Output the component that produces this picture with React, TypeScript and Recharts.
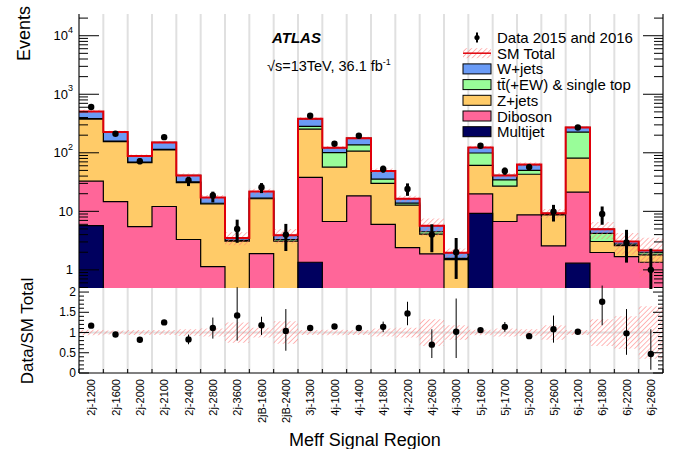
import React from 'react';
import { ComposedChart, Area, Line, Scatter, ErrorBar, XAxis, YAxis, CartesianGrid } from 'recharts';

const FONT = '"Liberation Sans", Arial, Helvetica, sans-serif';
const W = 683;
const H = 449;

// Meff signal regions
const regions = [
  '2j-1200', '2j-1600', '2j-2000', '2j-2100', '2j-2400', '2j-2800', '2j-3600', '2jB-1600', '2jB-2400',
  '3j-1300', '4j-1000', '4j-1400', '4j-1800', '4j-2200', '4j-2600', '4j-3000',
  '5j-1600', '5j-1700', '5j-2000', '5j-2600', '6j-1200', '6j-1800', '6j-2200', '6j-2600',
];

// background expectation per region (events)
const multijet = [5.7, 0, 0, 0, 0, 0, 0, 0, 0, 1.35, 0, 0, 0, 0, 0, 0, 9.2, 0, 0, 0, 1.3, 0, 0, 0];
const diboson = [27.1, 14.7, 5.5, 12.1, 3.3, 1.14, 0.3, 1.9, 0.3, 36.6, 6.7, 18.4, 6.0, 2.4, 1.88, 0.3, 10.6, 6.7, 8.7, 2.57, 20, 1.98, 1.69, 1.35];
const zjets = [344, 141, 62.5, 100, 27.7, 12.2, 2.8, 14.5, 2.8, 216, 50.3, 88.6, 24, 10.4, 2.2, 1.2, 41.3, 20.3, 34.3, 6.1, 59.7, 1.07, 0.91, 0.45];
const ttbar = [6, 2, 1.5, 2, 0.8, 0.4, 0.1, 0.4, 0.2, 28, 44, 30, 5.5, 1.0, 0.4, 0.07, 38, 7.5, 7, 0.1, 145, 1.15, 0.15, 0.16];
const wjets = [125, 68, 18.5, 36, 9.2, 3.5, 0.3, 5.0, 0.6, 99, 21, 41, 13.5, 2.6, 1.2, 0.4, 24, 6.5, 13, 0.5, 45, 0.76, 0.3, 0.18];
// relative uncertainty on SM total
const systUnc = [0.07, 0.05, 0.06, 0.06, 0.08, 0.1, 0.25, 0.12, 0.28, 0.06, 0.07, 0.06, 0.1, 0.12, 0.33, 0.18, 0.07, 0.1, 0.08, 0.18, 0.06, 0.33, 0.4, 0.65];

// data 2015+2016
const observed = [604, 211, 72, 185, 34, 18.7, 5, 25.9, 4, 429, 143, 195, 53, 24, 4, 2, 132, 49, 57, 9.9, 271, 9, 2.93, 1];
const observedErrLow = [25, 14.5, 8.5, 13.6, 7, 4.5, 2.1, 5.4, 1.9, 21, 12, 14, 7.3, 5.6, 2, 1.3, 11.5, 7, 7.5, 3.2, 16, 3.1, 1.6, 0.8];
const observedErrHigh = [25, 14.5, 8.5, 13.6, 5, 3, 2.2, 4.5, 2.1, 21, 12, 14, 7.3, 6, 2, 1.5, 11.5, 7, 7.5, 3, 16, 3.1, 1.9, 1.3];

// Data / SM total
const ratio = [1.17, 0.95, 0.82, 1.25, 0.83, 1.11, 1.42, 1.18, 1.04, 1.11, 1.15, 1.11, 1.14, 1.47, 0.7, 1.02, 1.06, 1.14, 0.91, 1.08, 1.02, 1.76, 0.98, 0.47];
const ratioErrLow = [0.04, 0.05, 0.07, 0.05, 0.12, 0.26, 0.62, 0.24, 0.49, 0.03, 0.05, 0.04, 0.13, 0.29, 0.33, 0.65, 0.05, 0.12, 0.07, 0.33, 0.03, 0.58, 0.53, 0.39];
const ratioErrHigh = [0.04, 0.05, 0.07, 0.05, 0.12, 0.26, 0.7, 0.21, 0.54, 0.03, 0.05, 0.04, 0.13, 0.29, 0.38, 0.82, 0.05, 0.12, 0.07, 0.34, 0.03, 0.4, 0.6, 0.61];

const logMajorTicks = [1, 10, 100, 1000, 10000];
const ratioMajorTicks = [0, 0.5, 1, 1.5, 2];

const colors = {
  wjets: '#6a9bf6',
  ttbar: '#99fd99',
  zjets: '#ffcb68',
  diboson: '#ff6699',
  multijet: '#00005f',
  total: '#e0000a',
  hatch: '#ff7070',
  grid: '#e0e0e0',
};

const legendItems = [
  { key: 'wjets', label: 'W+jets', color: colors.wjets },
  { key: 'ttbar', label: 't\u0074\u0304(+EW) & single top', color: colors.ttbar },
  { key: 'zjets', label: 'Z+jets', color: colors.zjets },
  { key: 'diboson', label: 'Diboson', color: colors.diboson },
  { key: 'multijet', label: 'Multijet', color: colors.multijet },
];

const Y_MIN = 0.49;
const Y_MAX = 23500;
const R_MAX = 2.1;

const binEdges = regions.map((_, i) => i).concat(regions.length);
const binCentres = regions.map((_, i) => i + 0.5);

const logMinorTicks: number[] = [];
[0.1, 1, 10, 100, 1000, 10000].forEach((d) => {
  for (let k = 2; k <= 9; k++) {
    const v = k * d;
    if (v >= Y_MIN && v <= Y_MAX) logMinorTicks.push(v);
  }
});
const logTicks = [...logMajorTicks, ...logMinorTicks].sort((a, b) => a - b);
const ratioTicks = Array.from({ length: 21 }, (_, i) => i / 10);

// cumulative stack, one row per bin edge (last edge repeats last bin) for step drawing
const floor = (v: number) => Math.max(v, 1e-3);
const stackRows = binEdges.map((e) => {
  const i = Math.min(e, regions.length - 1);
  const cMJ = multijet[i];
  const cDib = cMJ + diboson[i];
  const cZ = cDib + zjets[i];
  const cTT = cZ + ttbar[i];
  const total = cTT + wjets[i];
  return {
    x: e,
    cMJ: floor(cMJ),
    cDib: floor(cDib),
    cZ: floor(cZ),
    cTT: floor(cTT),
    total,
    band: [total * (1 - systUnc[i]), total * (1 + systUnc[i])],
    rband: [1 - systUnc[i], 1 + systUnc[i]],
  };
});

const dataPoints = regions.map((_, i) => ({
  x: binCentres[i],
  y: observed[i],
  err: [observedErrLow[i], observedErrHigh[i]],
}));

const ratioPoints = regions.map((_, i) => ({
  x: binCentres[i],
  y: ratio[i],
  err: [ratioErrLow[i], ratioErrHigh[i]],
}));

const isMajor = (list: number[], v: number) => list.some((m) => Math.abs(m - v) < 1e-9);

const LogTickLeft = ({ x, y, payload }: any) => {
  const v = payload.value;
  const major = isMajor(logMajorTicks, v);
  const exp = Math.round(Math.log10(v));
  return (
    <g>
      <line x1={x} y1={y} x2={x + (major ? 20 : 9)} y2={y} stroke="#000" />
      {major && (
        <text x={x - 6} y={y} textAnchor="end" dominantBaseline="central" fontSize={13} fontFamily={FONT} fill="#000">
          {exp < 2 ? String(v) : (
            <>
              10<tspan dy={-6} fontSize={9}>{exp}</tspan>
            </>
          )}
        </text>
      )}
    </g>
  );
};

const LogTickRight = ({ x, y, payload }: any) => {
  const major = isMajor(logMajorTicks, payload.value);
  return <line x1={x} y1={y} x2={x - (major ? 20 : 9)} y2={y} stroke="#000" />;
};

const RatioTickLeft = ({ x, y, payload }: any) => {
  const v = payload.value;
  const major = isMajor(ratioMajorTicks, v);
  return (
    <g>
      <line x1={x} y1={y} x2={x + (major ? 10 : 5)} y2={y} stroke="#000" />
      {major && (
        <text x={x - 3} y={y} textAnchor="end" dominantBaseline="central" fontSize={12} fontFamily={FONT} fill="#000">
          {String(v)}
        </text>
      )}
    </g>
  );
};

const RatioTickRight = ({ x, y, payload }: any) => {
  const major = isMajor(ratioMajorTicks, payload.value);
  return <line x1={x} y1={y} x2={x - (major ? 10 : 5)} y2={y} stroke="#000" />;
};

const EdgeTickUp = ({ x, y }: any) => <line x1={x} y1={y} x2={x} y2={y - 7} stroke="#000" />;
const EdgeTickDown = ({ x, y }: any) => <line x1={x} y1={y} x2={x} y2={y + 8} stroke="#000" />;

const RegionTick = ({ x, y, payload }: any) => {
  const v = payload.value;
  if (Number.isInteger(v)) return <line x1={x} y1={y} x2={x} y2={y - 4} stroke="#000" />;
  return (
    <text
      transform={`translate(${x + 4},${y + 6}) rotate(-90)`}
      textAnchor="end"
      fontSize={11}
      fontFamily={FONT}
      fill="#000"
    >
      {regions[Math.floor(v)]}
    </text>
  );
};

const Marker = (r: number) => (p: any) => <circle cx={p.cx} cy={p.cy} r={r} fill="#000" />;

const Hatch = ({ id }: { id: string }) => (
  <pattern id={id} patternUnits="userSpaceOnUse" width={3.6} height={3.6} patternTransform="rotate(45)">
    <line x1={0} y1={0} x2={0} y2={3.6} stroke={colors.hatch} strokeWidth={1} />
  </pattern>
);

const Legend = () => {
  const x0 = 463;
  const bw = 28;
  const tx = 497;
  const y0 = 37.5;
  const dy = 15.7;
  return (
    <g fontFamily={FONT} fontSize={15} fill="#000">
      <line x1={x0 + bw / 2} y1={y0 - 5} x2={x0 + bw / 2} y2={y0 + 5} stroke="#000" strokeWidth={2} />
      <circle cx={x0 + bw / 2} cy={y0} r={2.6} fill="#000" />
      <text x={tx} y={y0} dominantBaseline="central">Data 2015 and 2016</text>
      <rect x={x0} y={y0 + dy - 5} width={bw} height={10} fill="url(#hatchLegend)" />
      <line x1={x0} y1={y0 + dy} x2={x0 + bw} y2={y0 + dy} stroke={colors.total} strokeWidth={1.5} />
      <text x={tx} y={y0 + dy} dominantBaseline="central">SM Total</text>
      {legendItems.map((it, k) => {
        const cy = y0 + dy * (k + 2);
        return (
          <g key={it.key}>
            <rect x={x0} y={cy - 5} width={bw} height={10} fill={it.color} stroke="#000" strokeWidth={1} />
            <text x={tx} y={cy} dominantBaseline="central">{it.label}</text>
          </g>
        );
      })}
    </g>
  );
};

export default function App() {
  return (
    <div style={{ position: 'absolute', left: 0, top: 0, width: W, height: H, background: '#fff' }}>
      <div style={{ position: 'absolute', left: 0, top: 0, width: W, height: 289, overflow: 'hidden' }}>
        <ComposedChart width={W} height={289} data={stackRows} margin={{ top: 14, right: 0, bottom: 1, left: 0 }}>
          <defs>
            <Hatch id="hatchMain" />
          </defs>
          <CartesianGrid horizontal={false} verticalValues={binEdges} stroke={colors.grid} strokeWidth={2} />
          <XAxis
            dataKey="x"
            type="number"
            domain={[0, regions.length]}
            allowDataOverflow
            ticks={binEdges}
            interval={0}
            height={0}
            tickSize={0}
            tickMargin={0}
            tickLine={false}
            axisLine={{ stroke: '#000' }}
            tick={<EdgeTickUp />}
          />
          <XAxis
            xAxisId="top"
            orientation="top"
            dataKey="x"
            type="number"
            domain={[0, regions.length]}
            allowDataOverflow
            ticks={binEdges}
            interval={0}
            height={0}
            tickSize={0}
            tickMargin={0}
            tickLine={false}
            axisLine={{ stroke: '#000' }}
            tick={<EdgeTickDown />}
          />
          <YAxis
            type="number"
            scale="log"
            domain={[Y_MIN, Y_MAX]}
            allowDataOverflow
            ticks={logTicks}
            interval={0}
            width={79}
            tickSize={0}
            tickMargin={0}
            tickLine={false}
            axisLine={{ stroke: '#000' }}
            tick={<LogTickLeft />}
          />
          <YAxis
            yAxisId="right"
            orientation="right"
            type="number"
            scale="log"
            domain={[Y_MIN, Y_MAX]}
            allowDataOverflow
            ticks={logTicks}
            interval={0}
            width={20}
            tickSize={0}
            tickMargin={0}
            tickLine={false}
            axisLine={{ stroke: '#000' }}
            tick={<LogTickRight />}
          />
          <Area dataKey="total" name="W+jets" type="stepAfter" fill={colors.wjets} fillOpacity={1} stroke="#000" strokeWidth={1.2} isAnimationActive={false} />
          <Area dataKey="cTT" name="ttbar" type="stepAfter" fill={colors.ttbar} fillOpacity={1} stroke="#000" strokeWidth={1.2} isAnimationActive={false} />
          <Area dataKey="cZ" name="Z+jets" type="stepAfter" fill={colors.zjets} fillOpacity={1} stroke="#000" strokeWidth={1.2} isAnimationActive={false} />
          <Area dataKey="cDib" name="Diboson" type="stepAfter" fill={colors.diboson} fillOpacity={1} stroke="#000" strokeWidth={1.2} isAnimationActive={false} />
          <Area dataKey="cMJ" name="Multijet" type="stepAfter" fill={colors.multijet} fillOpacity={1} stroke="#000" strokeWidth={1.2} isAnimationActive={false} />
          <Area dataKey="band" type="stepAfter" fill="url(#hatchMain)" fillOpacity={1} stroke="none" isAnimationActive={false} />
          <Line dataKey="total" name="SM Total" type="stepAfter" stroke={colors.total} strokeWidth={2} dot={false} isAnimationActive={false} />
          <Scatter data={dataPoints} dataKey="y" name="Data 2015 and 2016" shape={Marker(3.2)} isAnimationActive={false}>
            <ErrorBar dataKey="err" direction="y" width={0} strokeWidth={3} stroke="#000" />
          </Scatter>
        </ComposedChart>
      </div>

      <div style={{ position: 'absolute', left: 0, top: 280, width: W, height: H - 280, overflow: 'hidden' }}>
        <ComposedChart width={W} height={H - 280} data={stackRows} margin={{ top: 8, right: 0, bottom: 0, left: 0 }}>
          <defs>
            <Hatch id="hatchRatio" />
          </defs>
          <CartesianGrid verticalValues={binEdges} horizontalValues={[1]} stroke={colors.grid} strokeWidth={2} />
          <XAxis
            dataKey="x"
            type="number"
            domain={[0, regions.length]}
            allowDataOverflow
            ticks={[...binEdges, ...binCentres].sort((a, b) => a - b)}
            interval={0}
            height={76}
            tickSize={0}
            tickMargin={0}
            tickLine={false}
            axisLine={{ stroke: '#000' }}
            tick={<RegionTick />}
          />
          <YAxis
            type="number"
            domain={[0, R_MAX]}
            allowDataOverflow
            ticks={ratioTicks}
            interval={0}
            width={79}
            tickSize={0}
            tickMargin={0}
            tickLine={false}
            axisLine={{ stroke: '#000' }}
            tick={<RatioTickLeft />}
          />
          <YAxis
            yAxisId="right"
            orientation="right"
            type="number"
            domain={[0, R_MAX]}
            allowDataOverflow
            ticks={ratioTicks}
            interval={0}
            width={20}
            tickSize={0}
            tickMargin={0}
            tickLine={false}
            axisLine={{ stroke: '#000' }}
            tick={<RatioTickRight />}
          />
          <Area dataKey="rband" type="stepAfter" fill="url(#hatchRatio)" fillOpacity={1} stroke="none" isAnimationActive={false} />
          <Scatter data={ratioPoints} dataKey="y" shape={Marker(3.2)} isAnimationActive={false}>
            <ErrorBar dataKey="err" direction="y" width={0} strokeWidth={1} stroke="#000" />
          </Scatter>
        </ComposedChart>
      </div>

      <svg width={W} height={H} style={{ position: 'absolute', left: 0, top: 0, pointerEvents: 'none' }}>
        <defs>
          <Hatch id="hatchLegend" />
        </defs>
        <text x={272} y={43} fontFamily={FONT} fontSize={15} fontWeight="bold" fontStyle="italic" fill="#000">ATLAS</text>
        <text x={267} y={71} fontFamily={FONT} fontSize={14.5} fill="#000">
          √s=13TeV, 36.1 fb<tspan dy={-6} fontSize={9}>-1</tspan>
        </text>
        <Legend />
        <text transform="translate(30,33.5) rotate(-90)" textAnchor="middle" fontFamily={FONT} fontSize={18} fill="#000">Events</text>
        <text transform="translate(33,331) rotate(-90)" textAnchor="middle" fontFamily={FONT} fontSize={17} fill="#000">Data/SM Total</text>
        <text x={365} y={446} textAnchor="middle" fontFamily={FONT} fontSize={18} fill="#000">Meff Signal Region</text>
      </svg>
    </div>
  );
}
